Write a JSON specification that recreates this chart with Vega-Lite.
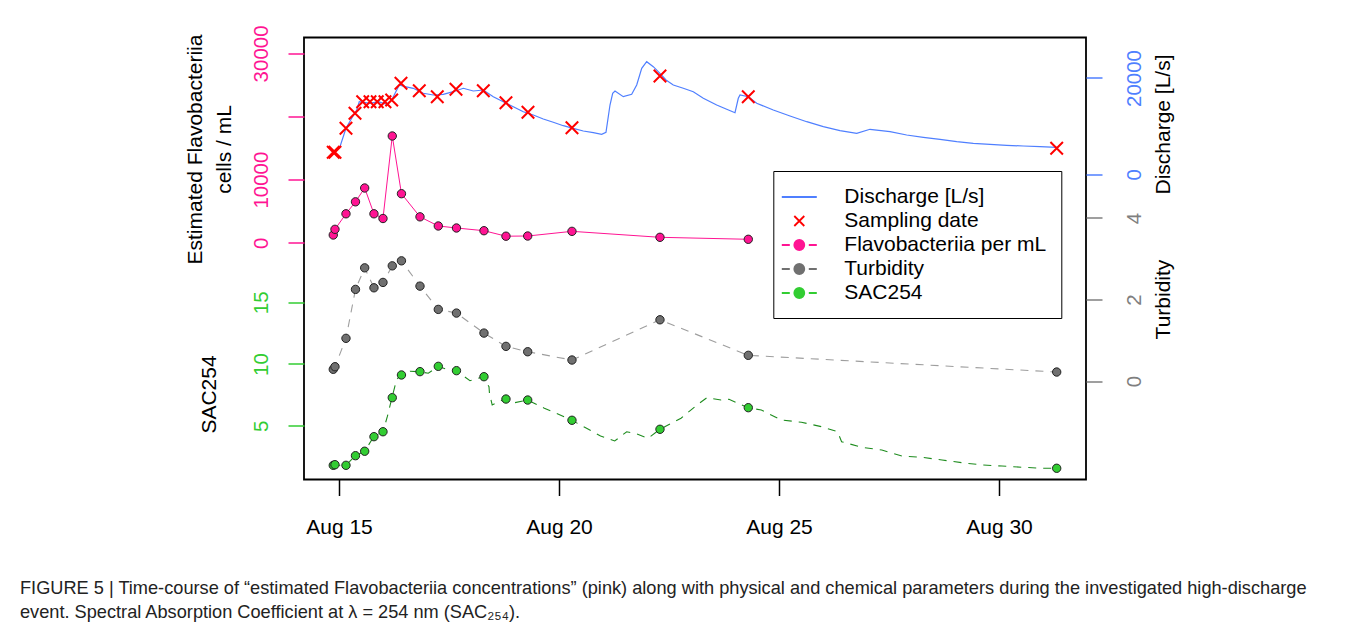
{
  "$schema": "https://vega.github.io/schema/vega-lite/v6.json",
  "autosize": {"type": "none"},
  "width": 782,
  "height": 442,
  "padding": {"left": 304, "top": 37.5, "right": 274, "bottom": 151.5},
  "background": "white",
  "title": {
    "text": ["FIGURE 5 | Time-course of “estimated Flavobacteriia concentrations” (pink) along with physical and chemical parameters during the investigated high-discharge", "event. Spectral Absorption Coefficient at λ = 254 nm (SAC₂₅₄)."],
    "orient": "bottom", "anchor": "start", "frame": "group", "dx": -284, "offset": 42,
    "fontSize": 18.2, "font": "Liberation Sans", "fontWeight": "normal", "color": "#222", "lineHeight": 24
  },
  "datasets": {
    "discharge": [
      {"day": 14.870, "q": 4569}, {"day": 15.023, "q": 5732}, {"day": 15.159, "q": 9554}, {"day": 15.289, "q": 11631},
      {"day": 15.402, "q": 13355}, {"day": 15.461, "q": 15079}, {"day": 15.705, "q": 14747}, {"day": 15.893, "q": 15079},
      {"day": 16.084, "q": 14539}, {"day": 16.198, "q": 15432}, {"day": 16.370, "q": 18548}, {"day": 16.500, "q": 18195},
      {"day": 16.689, "q": 17862}, {"day": 16.916, "q": 16824}, {"day": 17.143, "q": 16471}, {"day": 17.370, "q": 16616},
      {"day": 17.598, "q": 17156}, {"day": 17.825, "q": 17862}, {"day": 18.052, "q": 17301}, {"day": 18.280, "q": 17509},
      {"day": 18.507, "q": 16117}, {"day": 18.734, "q": 15079}, {"day": 18.961, "q": 14041}, {"day": 19.189, "q": 13002},
      {"day": 19.416, "q": 12316}, {"day": 19.643, "q": 11486}, {"day": 19.870, "q": 10800}, {"day": 20.098, "q": 10094},
      {"day": 20.325, "q": 9554}, {"day": 20.552, "q": 8993}, {"day": 20.780, "q": 8640}, {"day": 20.970, "q": 8308},
      {"day": 21.068, "q": 8723}, {"day": 21.159, "q": 14393}, {"day": 21.220, "q": 16824}, {"day": 21.273, "q": 17301},
      {"day": 21.461, "q": 16117}, {"day": 21.652, "q": 16616}, {"day": 21.766, "q": 18547}, {"day": 21.880, "q": 22016},
      {"day": 21.993, "q": 23387}, {"day": 22.143, "q": 22349}, {"day": 22.295, "q": 20978}, {"day": 22.432, "q": 19586},
      {"day": 22.598, "q": 18547}, {"day": 22.825, "q": 17862}, {"day": 23.052, "q": 17156}, {"day": 23.280, "q": 15785},
      {"day": 23.584, "q": 14393}, {"day": 23.811, "q": 13500}, {"day": 24.000, "q": 12794}, {"day": 24.075, "q": 15785},
      {"day": 24.114, "q": 16470}, {"day": 24.302, "q": 16117}, {"day": 24.493, "q": 14747}, {"day": 24.870, "q": 13355},
      {"day": 25.250, "q": 12109}, {"day": 25.630, "q": 10925}, {"day": 26.007, "q": 9886}, {"day": 26.386, "q": 9056},
      {"day": 26.766, "q": 8516}, {"day": 27.068, "q": 9347}, {"day": 27.523, "q": 8848}, {"day": 27.902, "q": 8163},
      {"day": 28.280, "q": 7685}, {"day": 28.659, "q": 7270}, {"day": 29.039, "q": 6771}, {"day": 29.416, "q": 6439},
      {"day": 29.795, "q": 6231}, {"day": 30.175, "q": 6023}, {"day": 30.552, "q": 5878}, {"day": 30.932, "q": 5732},
      {"day": 31.311, "q": 5608}
    ],
    "sampling": [
      {"series": "Sampling date", "day": 14.870, "q": 4569}, {"series": "Sampling date", "day": 14.909, "q": 4569},
      {"series": "Sampling date", "day": 15.159, "q": 9553}, {"series": "Sampling date", "day": 15.364, "q": 12669},
      {"series": "Sampling date", "day": 15.539, "q": 15078}, {"series": "Sampling date", "day": 15.705, "q": 15078},
      {"series": "Sampling date", "day": 15.870, "q": 15078}, {"series": "Sampling date", "day": 16.045, "q": 15078},
      {"series": "Sampling date", "day": 16.198, "q": 15431}, {"series": "Sampling date", "day": 16.409, "q": 18900},
      {"series": "Sampling date", "day": 16.825, "q": 17362}, {"series": "Sampling date", "day": 17.234, "q": 16116},
      {"series": "Sampling date", "day": 17.659, "q": 17653}, {"series": "Sampling date", "day": 18.280, "q": 17362},
      {"series": "Sampling date", "day": 18.795, "q": 14870}, {"series": "Sampling date", "day": 19.295, "q": 12876},
      {"series": "Sampling date", "day": 20.295, "q": 9678}, {"series": "Sampling date", "day": 22.295, "q": 20415},
      {"series": "Sampling date", "day": 24.302, "q": 16116}, {"series": "Sampling date", "day": 31.311, "q": 5400}
    ],
    "samples": [
      {"series": "Flavobacteriia per mL", "day": 14.870, "value": 1220},
      {"series": "Flavobacteriia per mL", "day": 14.909, "value": 2120},
      {"series": "Flavobacteriia per mL", "day": 15.159, "value": 4580},
      {"series": "Flavobacteriia per mL", "day": 15.375, "value": 6480},
      {"series": "Flavobacteriia per mL", "day": 15.584, "value": 8670},
      {"series": "Flavobacteriia per mL", "day": 15.795, "value": 4580},
      {"series": "Flavobacteriia per mL", "day": 16.000, "value": 3835},
      {"series": "Flavobacteriia per mL", "day": 16.211, "value": 16910},
      {"series": "Flavobacteriia per mL", "day": 16.420, "value": 7765},
      {"series": "Flavobacteriia per mL", "day": 16.841, "value": 4100},
      {"series": "Flavobacteriia per mL", "day": 17.257, "value": 2650},
      {"series": "Flavobacteriia per mL", "day": 17.670, "value": 2330},
      {"series": "Flavobacteriia per mL", "day": 18.295, "value": 1900},
      {"series": "Flavobacteriia per mL", "day": 18.795, "value": 1030},
      {"series": "Flavobacteriia per mL", "day": 19.289, "value": 1060},
      {"series": "Flavobacteriia per mL", "day": 20.295, "value": 1800},
      {"series": "Flavobacteriia per mL", "day": 22.295, "value": 855},
      {"series": "Flavobacteriia per mL", "day": 24.302, "value": 540},
      {"series": "Turbidity", "day": 14.870, "value": 0.287},
      {"series": "Turbidity", "day": 14.909, "value": 0.35},
      {"series": "Turbidity", "day": 15.159, "value": 1.047},
      {"series": "Turbidity", "day": 15.375, "value": 2.248},
      {"series": "Turbidity", "day": 15.584, "value": 2.777},
      {"series": "Turbidity", "day": 15.795, "value": 2.287},
      {"series": "Turbidity", "day": 16.000, "value": 2.419},
      {"series": "Turbidity", "day": 16.211, "value": 2.826},
      {"series": "Turbidity", "day": 16.420, "value": 2.949},
      {"series": "Turbidity", "day": 16.841, "value": 2.328},
      {"series": "Turbidity", "day": 17.257, "value": 1.757},
      {"series": "Turbidity", "day": 17.670, "value": 1.667},
      {"series": "Turbidity", "day": 18.295, "value": 1.176},
      {"series": "Turbidity", "day": 18.795, "value": 0.85},
      {"series": "Turbidity", "day": 19.289, "value": 0.718},
      {"series": "Turbidity", "day": 20.295, "value": 0.515},
      {"series": "Turbidity", "day": 22.295, "value": 1.502},
      {"series": "Turbidity", "day": 24.302, "value": 0.63},
      {"series": "Turbidity", "day": 31.311, "value": 0.22},
      {"series": "SAC254", "day": 14.870, "value": 1.79},
      {"series": "SAC254", "day": 14.909, "value": 1.84},
      {"series": "SAC254", "day": 15.159, "value": 1.79},
      {"series": "SAC254", "day": 15.375, "value": 2.57},
      {"series": "SAC254", "day": 15.584, "value": 2.93},
      {"series": "SAC254", "day": 15.795, "value": 4.11},
      {"series": "SAC254", "day": 16.000, "value": 4.51},
      {"series": "SAC254", "day": 16.211, "value": 7.27},
      {"series": "SAC254", "day": 16.420, "value": 9.11},
      {"series": "SAC254", "day": 16.841, "value": 9.38},
      {"series": "SAC254", "day": 17.257, "value": 9.81},
      {"series": "SAC254", "day": 17.670, "value": 9.46},
      {"series": "SAC254", "day": 18.295, "value": 8.97},
      {"series": "SAC254", "day": 18.795, "value": 7.16},
      {"series": "SAC254", "day": 19.289, "value": 7.08},
      {"series": "SAC254", "day": 20.295, "value": 5.44},
      {"series": "SAC254", "day": 22.295, "value": 4.71},
      {"series": "SAC254", "day": 24.302, "value": 6.46},
      {"series": "SAC254", "day": 31.311, "value": 1.55}
    ],
    "sac": [
      {"day": 14.848, "sac": 1.79}, {"day": 15.159, "sac": 1.79}, {"day": 15.370, "sac": 2.57}, {"day": 15.584, "sac": 2.93},
      {"day": 15.789, "sac": 4.11}, {"day": 16.000, "sac": 4.51}, {"day": 16.098, "sac": 5.73}, {"day": 16.205, "sac": 7.27},
      {"day": 16.311, "sac": 8.76}, {"day": 16.416, "sac": 9.11}, {"day": 16.614, "sac": 9.41}, {"day": 16.834, "sac": 9.38},
      {"day": 17.030, "sac": 9.25}, {"day": 17.250, "sac": 9.81}, {"day": 17.448, "sac": 9.57}, {"day": 17.666, "sac": 9.46},
      {"day": 17.977, "sac": 8.65}, {"day": 18.282, "sac": 8.97}, {"day": 18.409, "sac": 8.16}, {"day": 18.420, "sac": 7.63},
      {"day": 18.482, "sac": 6.68}, {"day": 18.757, "sac": 7.14}, {"day": 18.984, "sac": 6.86}, {"day": 19.284, "sac": 7.08},
      {"day": 19.668, "sac": 6.41}, {"day": 19.943, "sac": 6.00}, {"day": 20.307, "sac": 5.41}, {"day": 20.627, "sac": 4.79},
      {"day": 20.945, "sac": 4.17}, {"day": 21.266, "sac": 3.76}, {"day": 21.539, "sac": 4.51}, {"day": 21.768, "sac": 4.33},
      {"day": 22.023, "sac": 3.98}, {"day": 22.295, "sac": 4.71}, {"day": 22.773, "sac": 5.60}, {"day": 23.136, "sac": 6.68},
      {"day": 23.364, "sac": 7.27}, {"day": 23.682, "sac": 7.08}, {"day": 23.864, "sac": 7.14}, {"day": 24.295, "sac": 6.46},
      {"day": 24.598, "sac": 6.27}, {"day": 25.055, "sac": 5.46}, {"day": 25.509, "sac": 5.28}, {"day": 25.966, "sac": 4.92},
      {"day": 26.332, "sac": 4.51}, {"day": 26.423, "sac": 3.70}, {"day": 26.880, "sac": 3.25}, {"day": 27.336, "sac": 3.03},
      {"day": 27.791, "sac": 2.54}, {"day": 28.250, "sac": 2.44}, {"day": 28.705, "sac": 2.22}, {"day": 29.159, "sac": 2.00},
      {"day": 29.614, "sac": 1.82}, {"day": 30.068, "sac": 1.73}, {"day": 30.530, "sac": 1.63}, {"day": 30.986, "sac": 1.55},
      {"day": 31.307, "sac": 1.55}
    ]
  },
  "encoding": {
    "x": {
      "field": "day", "type": "quantitative",
      "scale": {"domain": [14.205, 31.977], "nice": false, "zero": false},
      "axis": {"orient": "bottom", "values": [15, 20, 25, 30], "labelExpr": "'Aug ' + datum.value", "title": null,
               "tickColor": "black", "labelColor": "black", "labelPadding": 21, "labelFontSize": 21, "labelAngle": 0, "labelAlign": "center", "labelBaseline": "top"}
    }
  },
  "layer": [
    {
      "data": {"name": "discharge"},
      "mark": {"type": "line", "color": "#4F7FFF", "strokeWidth": 1.2},
      "encoding": {
        "y": {"field": "q", "type": "quantitative",
              "scale": {"domain": [-63384, 28411], "nice": false, "zero": false},
              "axis": {"orient": "right", "values": [0, 20000], "format": "d", "labelColor": "#4F7FFF", "tickColor": "#4F7FFF",
                       "title": "Discharge [L/s]", "titleX": 83.5, "titleY": 86.5}}
      }
    },
    {
      "data": {"name": "sampling"},
      "mark": {"type": "point", "filled": true, "size": 625, "strokeWidth": 2, "opacity": 1},
      "encoding": {
        "y": {"field": "q", "type": "quantitative",
              "scale": {"domain": [-63384, 28411], "nice": false, "zero": false}, "axis": null},
        "color": {"field": "series", "type": "nominal",
                  "scale": {"domain": ["Discharge [L/s]", "Sampling date", "Flavobacteriia per mL", "Turbidity", "SAC254"],
                            "range": ["#4F7FFF", "#FF0000", "#FF1493", "#707070", "#32CD32"]},
                  "legend": {"title": null, "orient": "none", "legendX": 469.3, "legendY": 133.5, "padding": 15,
                             "strokeColor": "black", "fillColor": "white", "symbolSize": 400, "symbolStrokeWidth": 1.8,
                             "labelFontSize": 21, "labelFont": "Liberation Sans", "labelColor": "black", "labelOffset": 34,
                             "rowPadding": 3, "labelLimit": 400, "symbolOpacity": 1}},
        "stroke": {"field": "series", "type": "nominal",
                  "scale": {"domain": ["Discharge [L/s]", "Sampling date", "Flavobacteriia per mL", "Turbidity", "SAC254"],
                            "range": ["#4F7FFF", "#FF0000", "#FF1493", "#707070", "#32CD32"]},
                  "legend": {"title": null, "orient": "none", "legendX": 469.3, "legendY": 133.5, "padding": 15,
                             "strokeColor": "black", "fillColor": "white", "symbolSize": 400, "symbolStrokeWidth": 1.8,
                             "labelFontSize": 21, "labelFont": "Liberation Sans", "labelColor": "black", "labelOffset": 34,
                             "rowPadding": 3, "labelLimit": 400, "symbolOpacity": 1}},
        "shape": {"field": "series", "type": "nominal",
                  "scale": {"domain": ["Discharge [L/s]", "Sampling date", "Flavobacteriia per mL", "Turbidity", "SAC254"],
                            "range": ["M-1.75,0L1.75,0", "M-0.5,-0.5L0.5,0.5M-0.5,0.5L0.5,-0.5",
                                      "M-1.75,0L-0.95,0M0.95,0L1.75,0M-0.5,0A0.5,0.5,0,1,0,0.5,0A0.5,0.5,0,1,0,-0.5,0Z",
                                      "M-1.75,0L-0.95,0M0.95,0L1.75,0M-0.5,0A0.5,0.5,0,1,0,0.5,0A0.5,0.5,0,1,0,-0.5,0Z",
                                      "M-1.75,0L-0.95,0M0.95,0L1.75,0M-0.5,0A0.5,0.5,0,1,0,0.5,0A0.5,0.5,0,1,0,-0.5,0Z"]},
                  "legend": {"title": null, "orient": "none", "legendX": 469.3, "legendY": 133.5, "padding": 15,
                             "strokeColor": "black", "fillColor": "white", "symbolSize": 400, "symbolStrokeWidth": 1.8,
                             "labelFontSize": 21, "labelFont": "Liberation Sans", "labelColor": "black", "labelOffset": 34,
                             "rowPadding": 3, "labelLimit": 400, "symbolOpacity": 1}}
      }
    },
    {
      "data": {"name": "samples"},
      "transform": [{"filter": "datum.series == 'Flavobacteriia per mL'"}],
      "mark": {"type": "line", "color": "#FF1493", "strokeWidth": 1},
      "encoding": {
        "y": {"field": "value", "type": "quantitative",
              "scale": {"domain": [-37528, 32520], "nice": false, "zero": false},
              "axis": {"orient": "left", "values": [0, 10000, 20000, 30000], "format": "d",
                       "labelExpr": "datum.value == 20000 ? '' : datum.label",
                       "labelColor": "#FF1493", "tickColor": "#FF1493",
                       "title": ["Estimated Flavobacteriia", "cells / mL"], "titleX": -103, "titleY": 111.5, "titleLineHeight": 29}}
      }
    },
    {
      "data": {"name": "samples"},
      "transform": [{"filter": "datum.series == 'Flavobacteriia per mL'"}],
      "mark": {"type": "circle", "fill": "#FF1493", "stroke": "#222", "strokeWidth": 1, "size": 70, "opacity": 1},
      "encoding": {
        "y": {"field": "value", "type": "quantitative",
              "scale": {"domain": [-37528, 32520], "nice": false, "zero": false}, "axis": null}
      }
    },
    {
      "data": {"name": "samples"},
      "transform": [{"filter": "datum.series == 'Turbidity'"}],
      "mark": {"type": "line", "color": "#9E9E9E", "strokeWidth": 1.1, "strokeDash": [8, 7]},
      "encoding": {
        "y": {"field": "value", "type": "quantitative",
              "scale": {"domain": [-2.417, 8.429], "nice": false, "zero": false},
              "axis": {"orient": "right", "values": [0, 2, 4], "format": "d", "labelColor": "#7F7F7F", "tickColor": "#7F7F7F",
                       "title": "Turbidity", "titleX": 83.5, "titleY": 261.5}}
      }
    },
    {
      "data": {"name": "samples"},
      "transform": [{"filter": "datum.series == 'Turbidity'"}],
      "mark": {"type": "circle", "fill": "#707070", "stroke": "#222", "strokeWidth": 1, "size": 70, "opacity": 1},
      "encoding": {
        "y": {"field": "value", "type": "quantitative",
              "scale": {"domain": [-2.417, 8.429], "nice": false, "zero": false}, "axis": null}
      }
    },
    {
      "data": {"name": "sac"},
      "mark": {"type": "line", "color": "#1E8C1E", "strokeWidth": 1.1, "strokeDash": [8, 7]},
      "encoding": {
        "y": {"field": "sac", "type": "quantitative",
              "scale": {"domain": [0.64, 36.459], "nice": false, "zero": false},
              "axis": {"orient": "left", "values": [5, 10, 15], "format": "d", "labelColor": "#32CD32", "tickColor": "#32CD32",
                       "title": "SAC254", "titleX": -89, "titleY": 356.5}}
      }
    },
    {
      "data": {"name": "samples"},
      "transform": [{"filter": "datum.series == 'SAC254'"}],
      "mark": {"type": "circle", "fill": "#32CD32", "stroke": "#222", "strokeWidth": 1, "size": 70, "opacity": 1},
      "encoding": {
        "y": {"field": "value", "type": "quantitative",
              "scale": {"domain": [0.64, 36.459], "nice": false, "zero": false}, "axis": null}
      }
    }
  ],
  "resolve": {"scale": {"y": "independent"}, "axis": {"y": "independent"}},
  "config": {
    "font": "Liberation Sans",
    "view": {"stroke": "black", "strokeWidth": 1.8},
    "axis": {"domain": false, "grid": false, "ticks": true, "tickSize": 16, "tickWidth": 1.5,
             "labelFontSize": 20.5, "labelFont": "Liberation Sans", "labelOverlap": false, "labelFlush": false,
             "titleFontSize": 21, "titleFont": "Liberation Sans", "titleFontWeight": "normal", "titleColor": "black"},
    "axisLeft": {"labelAngle": -90, "labelAlign": "center", "labelBaseline": "alphabetic", "labelPadding": 21,
                 "titleAngle": -90, "titleAlign": "center", "titleBaseline": "alphabetic"},
    "axisRight": {"labelAngle": -90, "labelAlign": "center", "labelBaseline": "top", "labelPadding": 22.5,
                  "titleAngle": -90, "titleAlign": "center", "titleBaseline": "alphabetic"}
  }
}
